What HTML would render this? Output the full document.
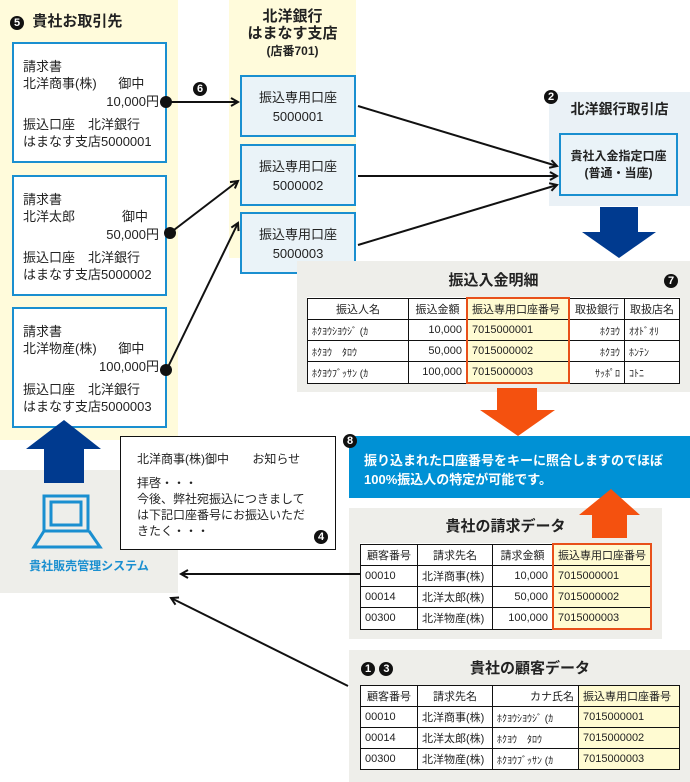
<!DOCTYPE html>
<html><head><meta charset="utf-8"><style>
body{margin:0;width:690px;height:782px;position:relative;overflow:hidden;background:#fff;font-family:"Liberation Sans","Noto Sans CJK JP",sans-serif;color:#222}
.a{position:absolute}
.yl{background:#fffbdb}
.gr{background:#eeeeea}
.inv{position:absolute;left:12px;width:151px;height:117px;border:2px solid #1a8fd0;background:#fff;font-size:13px;line-height:17px}
.inv div{position:absolute;left:9px;white-space:nowrap}
.acc{position:absolute;left:240px;width:112px;height:58px;border:2px solid #1a8fd0;background:#eaf3f8;font-size:13px;text-align:center;line-height:19px;padding-top:11px;box-sizing:content-box;height:47px}
.n{display:inline-block;width:14px;height:14px;border-radius:50%;background:#111;color:#fff;font-size:11px;line-height:14px;text-align:center;font-weight:bold}
table{border-collapse:collapse;position:absolute;background:#fff;font-size:11px}
td{border:1px solid #111;height:20px;padding:0 4px;white-space:nowrap}
.hl{background:#fffbd2}
.r{text-align:right}.c{text-align:center}
.ttl{position:absolute;font-size:15px;font-weight:bold;text-align:center}
</style></head><body>
<div class="a yl" style="left:0;top:0;width:178px;height:440px"></div>
<div class="a yl" style="left:229px;top:0;width:127px;height:258px"></div>
<div class="a" style="left:10px;top:10px;font-size:15px;font-weight:bold"><span class="n">5</span>&nbsp; 貴社お取引先</div>

<div class="inv" style="top:42px"><div style="top:14px">請求書</div><div style="top:31px">北洋商事(株)&nbsp;&nbsp;&nbsp;&nbsp;&nbsp;&nbsp;御中</div><div style="top:49px;left:auto;right:6px">10,000円</div><div style="top:72px">振込口座　北洋銀行</div><div style="top:89px">はまなす支店5000001</div></div>
<div class="inv" style="top:175px"><div style="top:14px">請求書</div><div style="top:31px">北洋太郎&nbsp;&nbsp;&nbsp;&nbsp;&nbsp;&nbsp;&nbsp;&nbsp;&nbsp;&nbsp;&nbsp;&nbsp;&nbsp;御中</div><div style="top:49px;left:auto;right:6px">50,000円</div><div style="top:72px">振込口座　北洋銀行</div><div style="top:89px">はまなす支店5000002</div></div>
<div class="inv" style="top:307px"><div style="top:14px">請求書</div><div style="top:31px">北洋物産(株)&nbsp;&nbsp;&nbsp;&nbsp;&nbsp;&nbsp;御中</div><div style="top:49px;left:auto;right:6px">100,000円</div><div style="top:72px">振込口座　北洋銀行</div><div style="top:89px">はまなす支店5000003</div></div>

<div class="a" style="left:229px;top:8px;width:127px;text-align:center;font-size:15px;font-weight:bold;line-height:17px">北洋銀行<br>はまなす支店<br><span style="font-size:12px">(店番701)</span></div>
<div class="acc" style="top:75px">振込専用口座<br>5000001</div>
<div class="acc" style="top:144px">振込専用口座<br>5000002</div>
<div class="acc" style="top:212px">振込専用口座<br>5000003</div>
<div class="a" style="left:193px;top:79px"><span class="n">6</span></div>

<div class="a" style="left:549px;top:92px;width:141px;height:114px;background:#eaf1f6"></div>
<div class="a" style="left:544px;top:87px"><span class="n">2</span></div>
<div class="a" style="left:549px;top:99px;width:141px;text-align:center;font-size:14px;font-weight:bold">北洋銀行取引店</div>
<div class="a" style="left:559px;top:133px;width:115px;height:59px;border:2px solid #1a8fd0;background:#eaf3f8;font-size:12px;font-weight:bold;text-align:center;line-height:17px;padding-top:0"><div style="margin-top:13px">貴社入金指定口座<br>(普通・当座)</div></div>

<div class="a gr" style="left:297px;top:261px;width:393px;height:131px"></div>
<div class="ttl" style="left:297px;top:269px;width:393px">振込入金明細</div>
<div class="a" style="left:664px;top:271px"><span class="n">7</span></div>
<table style="left:307px;top:297px;width:373px">
<tr><td class="c" style="width:92px">振込人名</td><td class="c" style="width:49px">振込金額</td><td class="hl" style="width:92px;border:2px solid #e8501a;border-bottom:none">振込専用口座番号</td><td class="c">取扱銀行</td><td class="c">取扱店名</td></tr>
<tr><td style="font-size:10px">ﾎｸﾖｳｼﾖｳｼﾞ (ｶ</td><td class="r">10,000</td><td class="hl" style="border-left:2px solid #e8501a;border-right:2px solid #e8501a">7015000001</td><td class="r" style="font-size:10px">ﾎｸﾖｳ</td><td style="font-size:10px">ｵｵﾄﾞｵﾘ</td></tr>
<tr><td style="font-size:10px">ﾎｸﾖｳ　ﾀﾛｳ</td><td class="r">50,000</td><td class="hl" style="border-left:2px solid #e8501a;border-right:2px solid #e8501a">7015000002</td><td class="r" style="font-size:10px">ﾎｸﾖｳ</td><td style="font-size:10px">ﾎﾝﾃﾝ</td></tr>
<tr><td style="font-size:10px">ﾎｸﾖｳﾌﾞｯｻﾝ (ｶ</td><td class="r">100,000</td><td class="hl" style="border:2px solid #e8501a;border-top:1px solid #111">7015000003</td><td class="r" style="font-size:10px">ｻｯﾎﾟﾛ</td><td style="font-size:10px">ｺﾄﾆ</td></tr>
</table>

<div class="a" style="left:349px;top:436px;width:341px;height:62px;background:#0091d5"></div>
<div class="a" style="left:343px;top:431px"><span class="n">8</span></div>
<div class="a" style="left:364px;top:451px;color:#fff;font-size:13px;font-weight:bold;line-height:19px">振り込まれた口座番号をキーに照合しますのでほぼ<br>100%振込人の特定が可能です。</div>

<div class="a gr" style="left:349px;top:508px;width:313px;height:131px"></div>
<div class="ttl" style="left:349px;top:515px;width:313px">貴社の請求データ</div>
<table style="left:360px;top:543px;width:292px">
<tr><td class="c" style="width:48px">顧客番号</td><td class="c" style="width:66px">請求先名</td><td class="c" style="width:51px">請求金額</td><td class="hl" style="border:2px solid #e8501a;border-bottom:none">振込専用口座番号</td></tr>
<tr><td>00010</td><td>北洋商事(株)</td><td class="r">10,000</td><td class="hl" style="border-left:2px solid #e8501a;border-right:2px solid #e8501a">7015000001</td></tr>
<tr><td>00014</td><td>北洋太郎(株)</td><td class="r">50,000</td><td class="hl" style="border-left:2px solid #e8501a;border-right:2px solid #e8501a">7015000002</td></tr>
<tr><td>00300</td><td>北洋物産(株)</td><td class="r">100,000</td><td class="hl" style="border:2px solid #e8501a;border-top:1px solid #111">7015000003</td></tr>
</table>

<div class="a gr" style="left:349px;top:650px;width:341px;height:132px"></div>
<div class="a" style="left:361px;top:659px"><span class="n">1</span> <span class="n">3</span></div>
<div class="ttl" style="left:440px;top:657px;width:180px">貴社の顧客データ</div>
<table style="left:360px;top:685px;width:320px">
<tr><td class="c" style="width:48px">顧客番号</td><td class="c" style="width:66px">請求先名</td><td class="r" style="width:77px">カナ氏名</td><td class="hl">振込専用口座番号</td></tr>
<tr><td>00010</td><td>北洋商事(株)</td><td style="font-size:10px">ﾎｸﾖｳｼﾖｳｼﾞ (ｶ</td><td class="hl">7015000001</td></tr>
<tr><td>00014</td><td>北洋太郎(株)</td><td style="font-size:10px">ﾎｸﾖｳ　ﾀﾛｳ</td><td class="hl">7015000002</td></tr>
<tr><td>00300</td><td>北洋物産(株)</td><td style="font-size:10px">ﾎｸﾖｳﾌﾞｯｻﾝ (ｶ</td><td class="hl">7015000003</td></tr>
</table>

<div class="a gr" style="left:0;top:470px;width:178px;height:123px"></div>
<div class="a" style="left:0;top:557px;width:178px;text-align:center;color:#1a8fd0;font-size:12px;font-weight:bold">貴社販売管理システム</div>

<div class="a" style="left:120px;top:436px;width:214px;height:112px;border:1px solid #111;background:#fff;font-size:12px;line-height:16px">
<div style="position:absolute;left:16px;top:14px">北洋商事(株)御中&nbsp;&nbsp;&nbsp;&nbsp;&nbsp;&nbsp;&nbsp;お知らせ</div>
<div style="position:absolute;left:16px;top:38px">拝啓・・・<br>今後、弊社宛振込につきまして<br>は下記口座番号にお振込いただ<br>きたく・・・</div>
<div style="position:absolute;left:193px;top:91px"><span class="n">4</span></div>
</div>

<svg class="a" style="left:0;top:0" width="690" height="782">
<defs><marker id="ar" markerWidth="10" markerHeight="10" refX="8" refY="5" orient="auto" markerUnits="userSpaceOnUse"><path d="M1,1 L8,5 L1,9" fill="none" stroke="#111" stroke-width="2"/></marker></defs>
<g stroke="#111" stroke-width="2" fill="none">
<line x1="166" y1="102" x2="238" y2="102" marker-end="url(#ar)"/>
<line x1="170" y1="233" x2="238" y2="181" marker-end="url(#ar)"/>
<line x1="168" y1="367" x2="238" y2="223" marker-end="url(#ar)"/>
<line x1="358" y1="106" x2="557" y2="166" marker-end="url(#ar)"/>
<line x1="358" y1="176" x2="557" y2="176" marker-end="url(#ar)"/>
<line x1="358" y1="245" x2="557" y2="185" marker-end="url(#ar)"/>
<line x1="360" y1="574" x2="181" y2="574" marker-end="url(#ar)"/>
<line x1="348" y1="686" x2="171" y2="598" marker-end="url(#ar)"/>
</g>
<g fill="#111"><circle cx="166" cy="102" r="6"/><circle cx="170" cy="233" r="6"/><circle cx="166" cy="370" r="6"/></g>
<polygon points="600,207 638,207 638,232 656,232 619,258 582,232 600,232" fill="#003a8f"/>
<polygon points="44,483 84,483 84,449 101,449 64,420 26,449 44,449" fill="#003a8f"/>
<polygon points="497,388 537,388 537,410 555,410 518,436 480,410 497,410" fill="#f4510f"/>
<polygon points="592,538 627,538 627,515 640,515 611,489 579,515 592,515" fill="#f4510f"/>
<g stroke="#1a8fd0" stroke-width="3" fill="none">
<rect x="44" y="496" width="44" height="35"/><rect x="51" y="502" width="30" height="23"/>
<path d="M44,531 L34,547 L100,547 L89,531"/>
</g>
</svg>
</body></html>
